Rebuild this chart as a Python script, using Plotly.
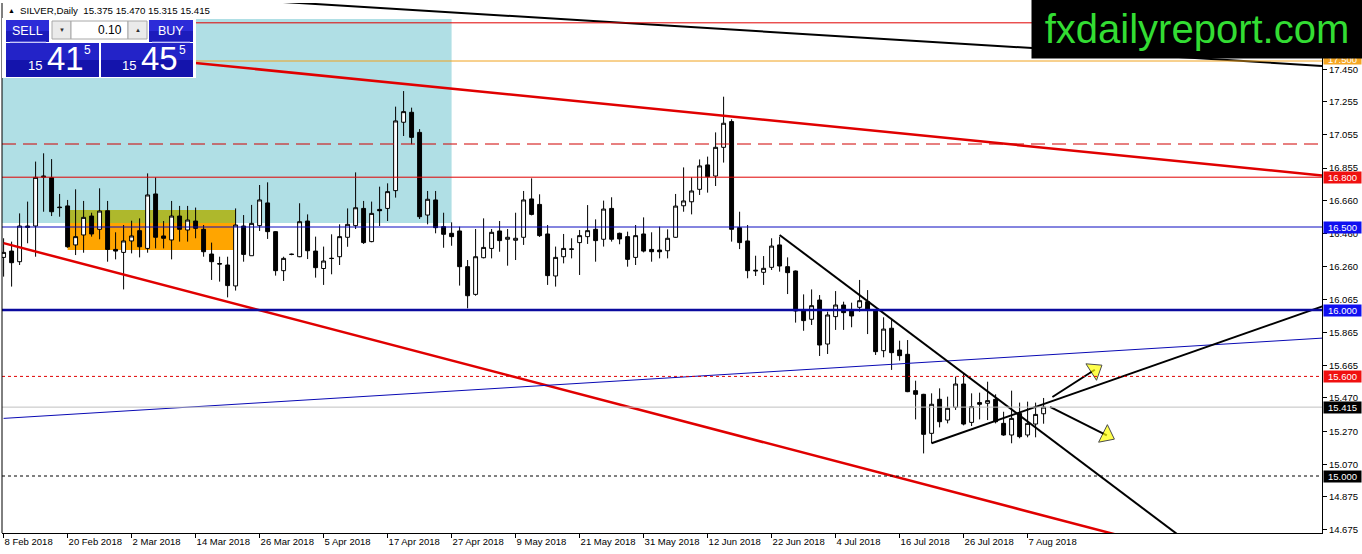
import plotly.graph_objects as go

# ---- candle data (SILVER daily, one bar per weekday from 8 Feb 2018) ----
OPEN = [16.317, 16.355, 16.291, 16.506, 16.506, 16.800, 16.797, 16.620, 16.627, 16.392,
        16.452, 16.566, 16.486, 16.598, 16.365, 16.347, 16.416, 16.478, 16.371, 16.699,
        16.446, 16.422, 16.566, 16.482, 16.536, 16.486, 16.337, 16.280, 16.271, 16.145,
        16.506, 16.327, 16.508, 16.645, 16.472, 16.237, 16.336, 16.321, 16.536, 16.355,
        16.250, 16.310, 16.321, 16.438, 16.508, 16.612, 16.412, 16.606, 16.612, 16.719,
        17.131, 17.191, 17.070, 16.572, 16.663, 16.502, 16.462, 16.476, 16.261, 16.094,
        16.315, 16.371, 16.476, 16.426, 16.420, 16.438, 16.669, 16.636, 16.458, 16.205,
        16.321, 16.368, 16.406, 16.442, 16.486, 16.426, 16.612, 16.462, 16.442, 16.317,
        16.458, 16.365, 16.361, 16.357, 16.438, 16.628, 16.652, 16.727, 16.874, 16.807,
        16.980, 17.135, 16.496, 16.416, 16.240, 16.227, 16.257, 16.392, 16.261, 16.235,
        15.996, 15.944, 16.060, 15.795, 15.960, 16.030, 16.000, 16.016, 16.050, 16.000,
        15.755, 15.890, 15.759, 15.733, 15.514, 15.492, 15.257, 15.462, 15.337, 15.414,
        15.554, 15.323, 15.442, 15.438, 15.462, 15.317, 15.247, 15.377, 15.247, 15.313,
        15.375]
HIGH = [16.432, 16.412, 16.582, 16.653, 16.894, 16.944, 16.909, 16.699, 16.663, 16.727,
        16.657, 16.586, 16.733, 16.657, 16.468, 16.512, 16.538, 16.552, 16.823, 16.799,
        16.536, 16.657, 16.627, 16.627, 16.617, 16.512, 16.406, 16.321, 16.321, 16.612,
        16.572, 16.633, 16.753, 16.769, 16.475, 16.321, 16.340, 16.643, 16.576, 16.442,
        16.382, 16.456, 16.516, 16.612, 16.829, 16.657, 16.653, 16.743, 16.763, 17.225,
        17.319, 17.219, 17.090, 16.717, 16.717, 16.586, 16.528, 16.502, 16.301, 16.488,
        16.552, 16.488, 16.536, 16.488, 16.586, 16.717, 16.793, 16.697, 16.512, 16.382,
        16.458, 16.432, 16.482, 16.632, 16.546, 16.659, 16.679, 16.466, 16.472, 16.512,
        16.558, 16.468, 16.502, 16.486, 16.699, 16.859, 16.799, 16.907, 16.924, 17.070,
        17.285, 17.149, 16.592, 16.512, 16.327, 16.325, 16.432, 16.442, 16.317, 16.238,
        16.094, 16.124, 16.090, 15.990, 16.114, 16.050, 16.044, 16.181, 16.120, 16.002,
        15.956, 15.944, 15.815, 15.819, 15.574, 15.495, 15.498, 15.528, 15.478, 15.598,
        15.614, 15.498, 15.502, 15.568, 15.492, 15.387, 15.514, 15.442, 15.448, 15.442,
        15.470]
LOW = [16.201, 16.141, 16.271, 16.402, 16.321, 16.592, 16.566, 16.562, 16.375, 16.331,
       16.345, 16.442, 16.426, 16.291, 16.305, 16.124, 16.341, 16.317, 16.345, 16.371,
       16.371, 16.305, 16.412, 16.412, 16.432, 16.321, 16.181, 16.171, 16.076, 16.117,
       16.291, 16.327, 16.476, 16.428, 16.207, 16.175, 16.330, 16.318, 16.307, 16.195,
       16.151, 16.215, 16.271, 16.381, 16.488, 16.398, 16.408, 16.506, 16.536, 16.677,
       17.048, 16.998, 16.548, 16.516, 16.462, 16.375, 16.387, 16.147, 16.010, 16.086,
       16.311, 16.311, 16.351, 16.267, 16.301, 16.392, 16.570, 16.440, 16.151, 16.141,
       16.281, 16.311, 16.211, 16.398, 16.291, 16.382, 16.412, 16.396, 16.261, 16.271,
       16.347, 16.291, 16.311, 16.311, 16.435, 16.592, 16.576, 16.693, 16.707, 16.747,
       16.888, 16.412, 16.367, 16.191, 16.205, 16.151, 16.241, 16.231, 16.096, 15.924,
       15.875, 15.910, 15.723, 15.735, 15.880, 15.880, 15.896, 15.990, 15.855, 15.729,
       15.715, 15.639, 15.695, 15.505, 15.341, 15.136, 15.197, 15.293, 15.317, 15.398,
       15.305, 15.301, 15.341, 15.337, 15.317, 15.242, 15.197, 15.227, 15.233, 15.233,
       15.315]
CLOSE = [16.347, 16.285, 16.506, 16.498, 16.799, 16.806, 16.592, 16.617, 16.381, 16.442,
         16.558, 16.458, 16.596, 16.365, 16.355, 16.416, 16.446, 16.381, 16.693, 16.438,
         16.432, 16.566, 16.486, 16.542, 16.492, 16.351, 16.291, 16.277, 16.147, 16.512,
         16.335, 16.522, 16.663, 16.472, 16.237, 16.311, 16.335, 16.532, 16.357, 16.255,
         16.295, 16.311, 16.442, 16.516, 16.616, 16.406, 16.582, 16.598, 16.713, 17.139,
         17.195, 17.040, 16.562, 16.667, 16.496, 16.456, 16.442, 16.261, 16.086, 16.321,
         16.377, 16.468, 16.418, 16.438, 16.432, 16.663, 16.576, 16.448, 16.207, 16.317,
         16.371, 16.366, 16.448, 16.478, 16.418, 16.608, 16.426, 16.428, 16.305, 16.448,
         16.355, 16.351, 16.351, 16.432, 16.626, 16.657, 16.717, 16.868, 16.803, 16.980,
         17.125, 16.486, 16.406, 16.237, 16.236, 16.251, 16.385, 16.265, 16.225, 15.994,
         15.936, 16.026, 15.789, 15.970, 16.030, 15.984, 15.964, 16.056, 16.006, 15.749,
         15.885, 15.743, 15.725, 15.508, 15.492, 15.251, 15.432, 15.327, 15.408, 15.554,
         15.313, 15.418, 15.432, 15.454, 15.327, 15.247, 15.347, 15.237, 15.317, 15.371,
         15.415]

TICK_BARS = [0, 8, 16, 24, 32, 40, 48, 56, 64, 72, 80, 88, 96, 104, 112, 120, 128]
TICK_LABELS = ["8 Feb 2018", "20 Feb 2018", "2 Mar 2018", "14 Mar 2018", "26 Mar 2018",
               "5 Apr 2018", "17 Apr 2018", "27 Apr 2018", "9 May 2018", "21 May 2018",
               "31 May 2018", "12 Jun 2018", "22 Jun 2018", "4 Jul 2018", "16 Jul 2018",
               "26 Jul 2018", "7 Aug 2018"]
PRICE_TICKS = [17.450, 17.255, 17.055, 16.855, 16.660, 16.460, 16.260, 16.065,
               15.865, 15.665, 15.470, 15.270, 15.070, 14.875, 14.675]

# horizontal levels: price, colour, width, dash
LEVELS = [
    (17.730, "#E00000", 1, "solid"),
    (17.500, "#F0A21E", 1, "solid"),
    (17.000, "#D00000", 1, "14px,7px"),
    (16.800, "#E00000", 1, "solid"),
    (16.500, "#0A0AC0", 1, "solid"),
    (16.000, "#0A0A9E", 2.5, "solid"),
    (15.600, "#E00000", 1, "3px,3px"),
    (15.415, "#C0C0C0", 1, "solid"),
    (15.000, "#000000", 1, "3px,3px"),
]
# price boxes on the right axis: price, background
PRICE_TAGS = [(16.800, "#F01010"), (16.500, "#1010F0"), (16.000, "#1010F0"),
              (15.600, "#F01010"), (15.415, "#000000"), (15.000, "#000000")]

# trend lines in (bar, price)
TOP_BLACK_X, TOP_BLACK_Y = [30, 170], [17.870, 17.455]
UPPER_RED_X, UPPER_RED_Y = [0, 166], [17.603, 16.805]
LOWER_RED_X, LOWER_RED_Y = [0, 145], [16.403, 14.572]
BLUE_THIN_X, BLUE_THIN_Y = [0, 166], [15.347, 15.834]
TRI_DOWN_X, TRI_DOWN_Y = [97, 150], [16.452, 14.530]
TRI_UP_X, TRI_UP_Y = [116, 166], [15.197, 16.041]
ARROW_UP_X, ARROW_UP_Y = [131.1, 136.4], [15.476, 15.640]
ARROW_DN_X, ARROW_DN_Y = [130.8, 137.9], [15.416, 15.245]

# zones (bar0, bar1, price0, price1)
BLUE_ZONE = (-2, 56, 16.524, 17.753)
ORANGE_ZONE = (8, 29, 16.361, 16.602)

W, H = 1362, 554
ML, MR, MT, MB = 2, 40, 3, 21
FONT = "Liberation Sans"


def px(x):
    return (x - ML) / (W - ML - MR)


def py(y):
    return 1 - (y - MT) / (H - MT - MB)


bars = list(range(len(OPEN)))

fig = go.Figure()
fig.add_trace(go.Candlestick(
    x=bars, open=OPEN, high=HIGH, low=LOW, close=CLOSE,
    increasing=dict(line=dict(color="black", width=1), fillcolor="white"),
    decreasing=dict(line=dict(color="black", width=1), fillcolor="black"),
    whiskerwidth=0, showlegend=False, hoverinfo="skip",
))


def line(xs, ys, color, width):
    fig.add_trace(go.Scatter(x=xs, y=ys, mode="lines", line=dict(color=color, width=width),
                             showlegend=False, hoverinfo="skip"))


line(TOP_BLACK_X, TOP_BLACK_Y, "black", 2)
line(UPPER_RED_X, UPPER_RED_Y, "#E00000", 2.5)
line(LOWER_RED_X, LOWER_RED_Y, "#E00000", 2.5)
line(BLUE_THIN_X, BLUE_THIN_Y, "#0A0AB4", 1)
line(TRI_DOWN_X, TRI_DOWN_Y, "black", 2)
line(TRI_UP_X, TRI_UP_Y, "black", 2)

for xs, ys in [(ARROW_UP_X, ARROW_UP_Y), (ARROW_DN_X, ARROW_DN_Y)]:
    fig.add_trace(go.Scatter(
        x=xs, y=ys, mode="lines+markers", line=dict(color="black", width=2),
        marker=dict(symbol="triangle-up", angleref="previous", size=[0, 17],
                    color="#FFFF00", line=dict(color="black", width=1)),
        showlegend=False, hoverinfo="skip"))

shapes = []
b0, b1, p0, p1 = BLUE_ZONE
shapes.append(dict(type="rect", xref="x", yref="y", x0=b0, x1=b1, y0=p0, y1=p1,
                   fillcolor="#B0DFE5", line_width=0, layer="below"))
b0, b1, p0, p1 = ORANGE_ZONE
shapes.append(dict(type="rect", xref="x", yref="y", x0=b0, x1=b1, y0=p0, y1=p1,
                   fillcolor="#FFA500", line_width=0, layer="below"))
shapes.append(dict(type="rect", xref="x", yref="y", x0=b0, x1=b1, y0=BLUE_ZONE[2], y1=p1,
                   fillcolor="#AEB82C", line_width=0, layer="below"))

for price, color, width, dash in LEVELS:
    shapes.append(dict(type="line", xref="paper", yref="y", x0=0, x1=1, y0=price, y1=price,
                       line=dict(color=color, width=width, dash=dash), layer="above"))

shapes.append(dict(type="line", xref="paper", yref="paper", x0=0, x1=0, y0=0, y1=1,
                   line=dict(color="black", width=1), layer="above"))


def box(x0, y0, x1, y1, fill, border=None):
    shapes.append(dict(type="rect", xref="paper", yref="paper",
                       x0=px(x0), x1=px(x1), y0=py(y1), y1=py(y0), fillcolor=fill,
                       line=dict(color=border or fill, width=1 if border else 0),
                       layer="above"))


# one-click trading panel
box(2, 18, 196, 78, "white")
for bx0, bx1 in [(6, 49), (149, 193)]:
    box(bx0, 20, bx1, 31, "#2C2CD8")
    box(bx0, 31, bx1, 42, "#1C1CBC")
for bx0, bx1 in [(6, 99), (101, 193)]:
    box(bx0, 43, bx1, 60, "#2323C8")
    box(bx0, 60, bx1, 77, "#1414AC")
box(52, 21, 71, 39, "#EAEAEA", "#A8A8A8")
box(71, 21, 128, 39, "white", "#A8A8A8")
box(128, 21, 147, 39, "#EAEAEA", "#A8A8A8")
for lx0, lx1 in [(10, 46), (152, 190)]:
    shapes.append(dict(type="line", xref="paper", yref="paper", x0=px(lx0), x1=px(lx1),
                       y0=py(42), y1=py(42), line=dict(color="#9090F0", width=1),
                       layer="above"))

ann = []


def text(x, y, s, size, color="black", xanchor="left", **kw):
    ann.append(dict(xref="paper", yref="paper", x=px(x), y=py(y), text=s, showarrow=False,
                    xanchor=xanchor, yanchor="middle",
                    font=dict(family=FONT, size=size, color=color), **kw))


for price, bg in PRICE_TAGS:
    ann.append(dict(xref="paper", yref="y", x=px(1323), y=price, text=f"{price:.3f}",
                    showarrow=False, xanchor="left", yanchor="middle", bgcolor=bg,
                    width=37, height=11, borderpad=0,
                    font=dict(family=FONT, size=9.5, color="white")))
ann.append(dict(xref="paper", yref="y", x=px(1323), y=17.500, text="17.500",
                showarrow=False, xanchor="left", yanchor="middle", bgcolor="#F5A623",
                width=37, height=10, borderpad=0, yshift=2,
                font=dict(family=FONT, size=9.5, color="white")))
# logo box
ann.append(dict(xref="paper", yref="paper", x=px(1197), y=py(29), text="fxdailyreport.com",
                showarrow=False, xanchor="center", yanchor="middle", bgcolor="black",
                width=330, height=58, borderpad=0,
                font=dict(family=FONT, size=40, color="#33DD33")))

text(6, 10.5, "▲", 7)
text(18, 10.5, "SILVER,Daily&nbsp;&nbsp;15.375 15.470 15.315 15.415", 9.7)
text(27.5, 31, "SELL", 12.5, "white", "center")
text(171, 31, "BUY", 12.5, "white", "center")
text(61.5, 30, "▼", 6, "#303030", "center")
text(137.5, 30, "▲", 6, "#303030", "center")
text(124, 30, "0.10", 12, "black", "right")
for xr, big, sup_x in [(44, "41", 82), (138, "45", 177)]:
    text(xr, 66, "15", 13, "white", "right")
    text(xr + 1, 59, big, 33, "white", "left")
    text(sup_x, 50, "5", 12, "white", "left")

fig.update_layout(
    width=W, height=H,
    margin=dict(l=ML, r=MR, t=MT, b=MB),
    paper_bgcolor="white", plot_bgcolor="white",
    shapes=shapes, annotations=ann,
    showlegend=False,
    font=dict(family=FONT, size=9, color="black"),
    xaxis=dict(range=[-0.2, 164.8], tickmode="array", tickvals=TICK_BARS,
               ticktext=TICK_LABELS, ticks="outside", ticklen=4, tickcolor="black",
               ticklabelposition="outside right", showline=True, linecolor="black",
               linewidth=1, showgrid=False, zeroline=False, fixedrange=True,
               rangeslider=dict(visible=False), tickfont=dict(family=FONT, size=9.5)),
    yaxis=dict(range=[14.6566, 17.8494], side="right", tickmode="array",
               tickvals=PRICE_TICKS, ticktext=[f"{v:.3f}" for v in PRICE_TICKS],
               ticks="outside", ticklen=4, tickcolor="black", showline=True,
               linecolor="black", linewidth=1, showgrid=False, zeroline=False,
               fixedrange=True, tickfont=dict(family=FONT, size=9.5)),
)

fig.write_html("out.html", config={"displayModeBar": False},
               post_script="document.body.style.margin='0';")
